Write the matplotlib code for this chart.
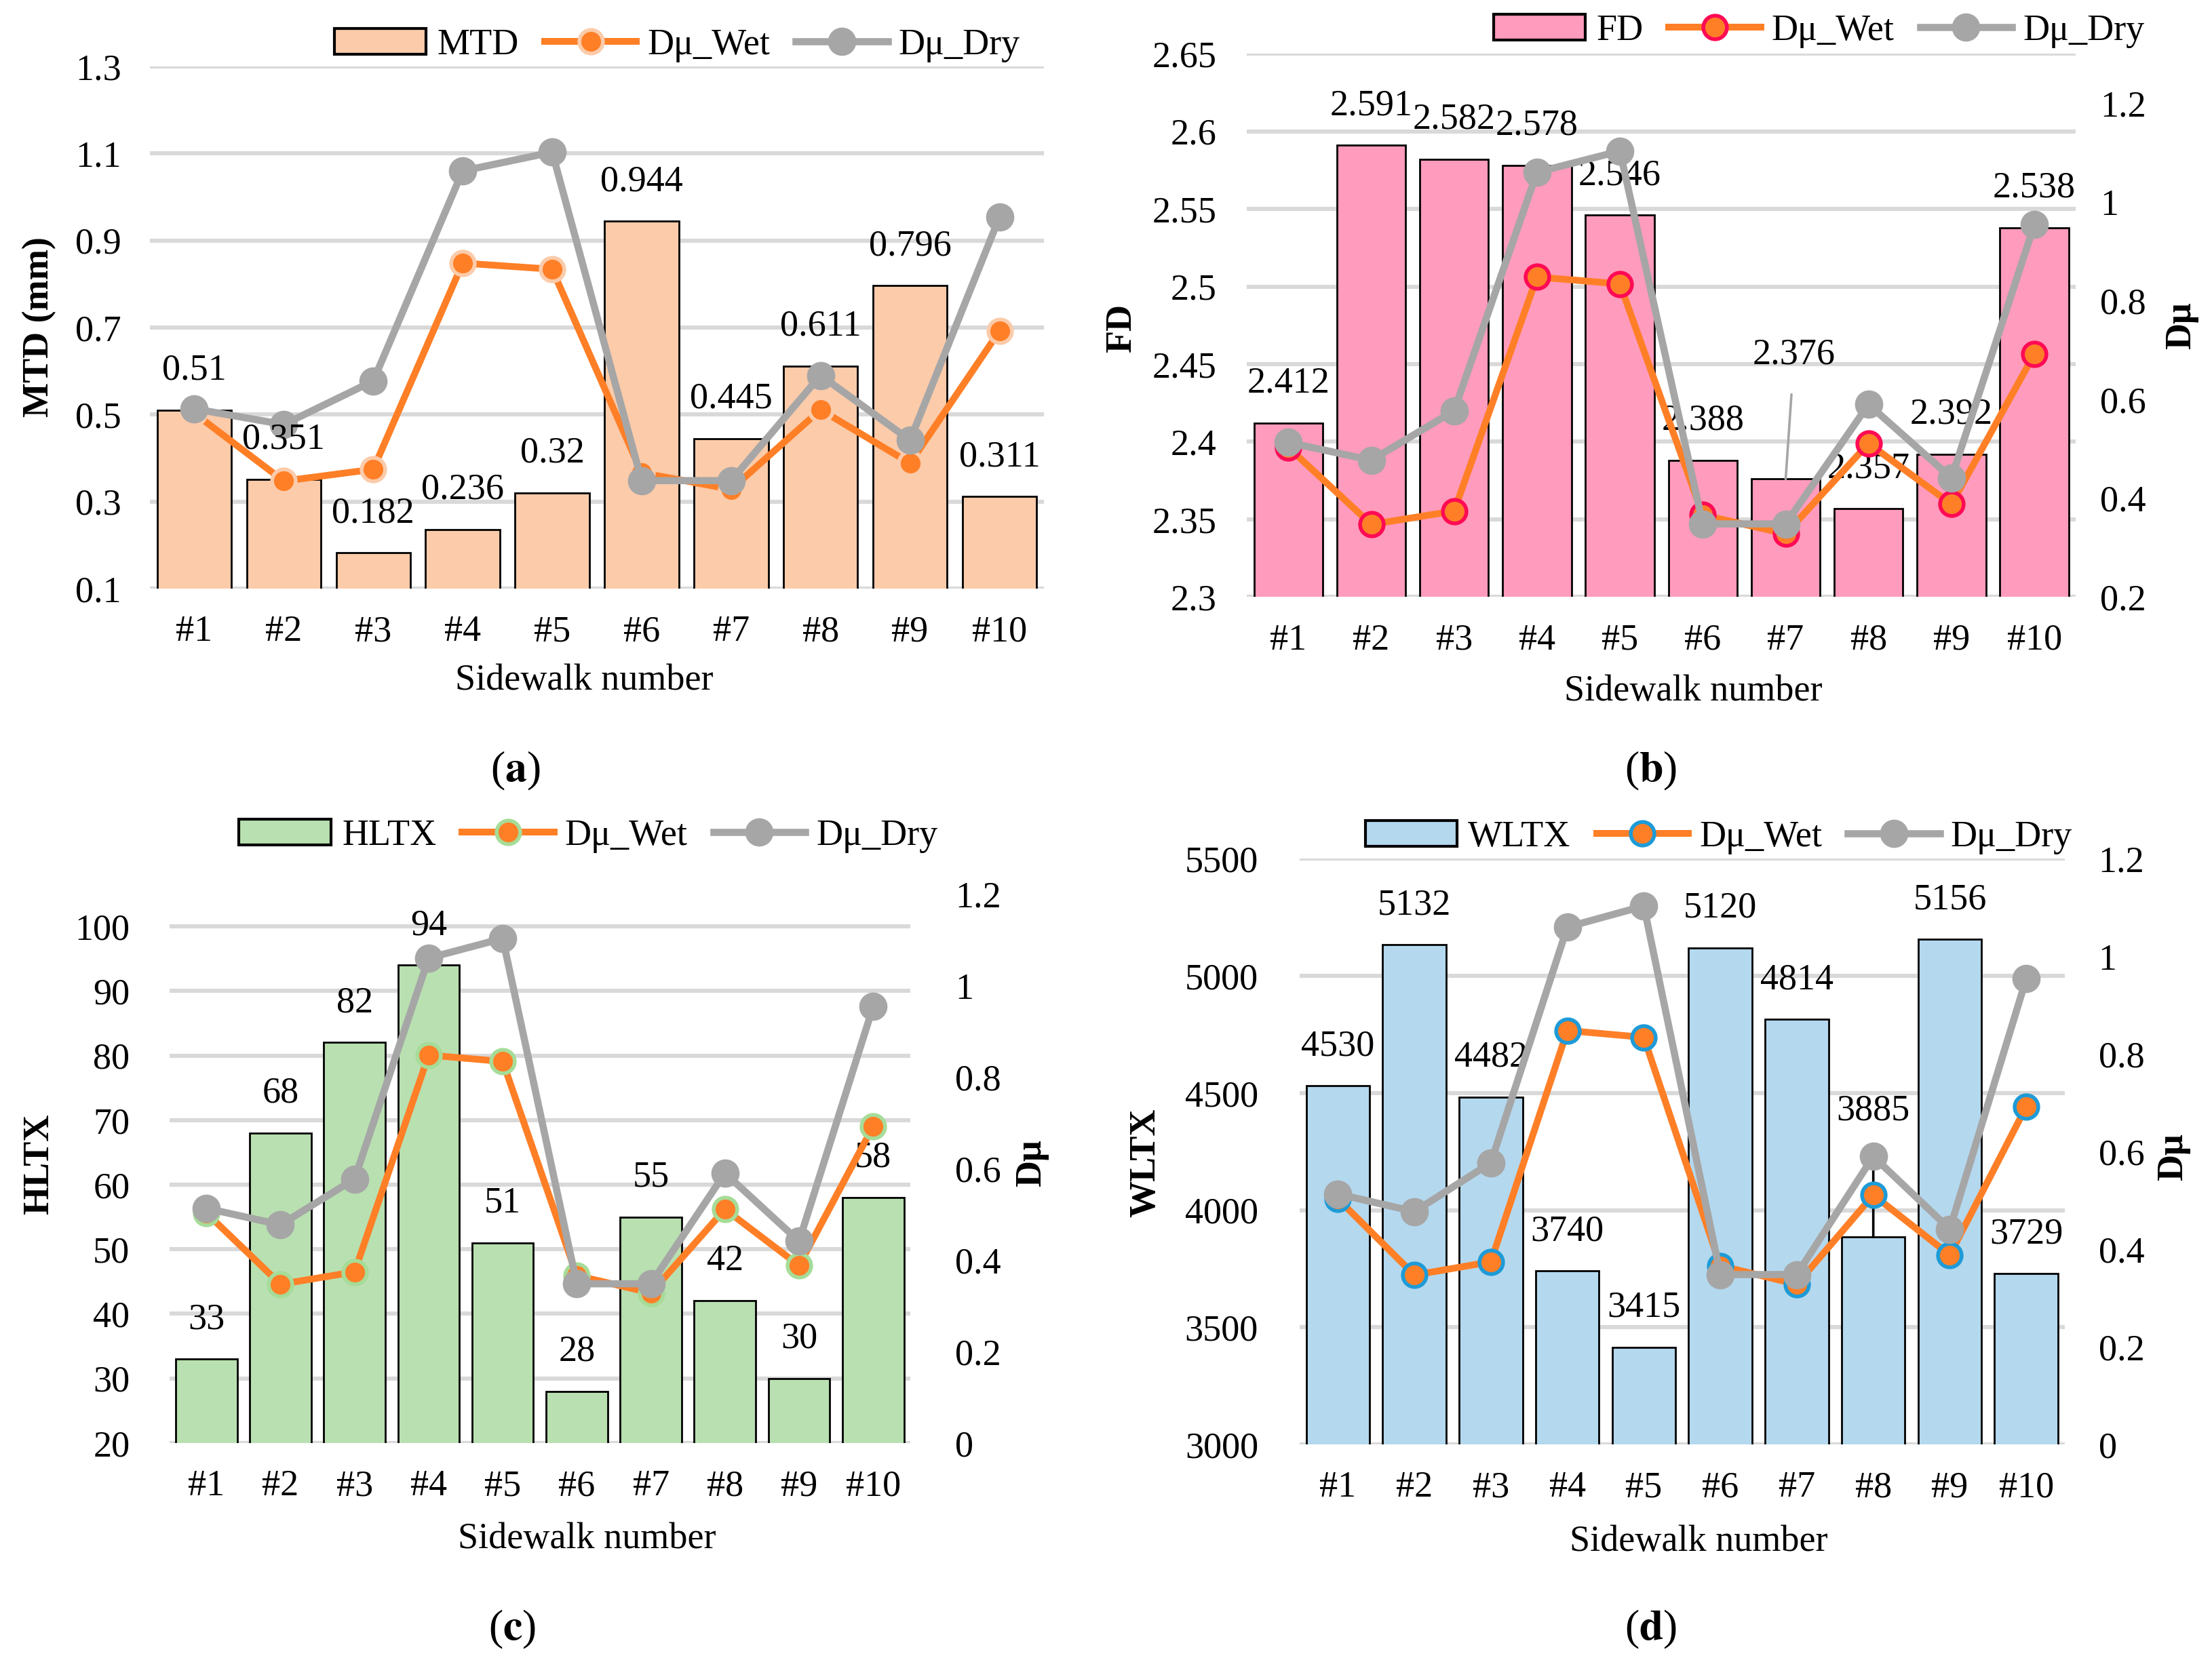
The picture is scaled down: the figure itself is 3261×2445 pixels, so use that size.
import matplotlib
matplotlib.use("Agg")
import matplotlib.pyplot as plt
from matplotlib.patches import Patch
from matplotlib.lines import Line2D

plt.rcParams['font.family'] = ['Liberation Serif', 'DejaVu Serif']
FS = 19.5

# ---- data ----
sidewalks = ['#1', '#2', '#3', '#4', '#5', '#6', '#7', '#8', '#9', '#10']
mtd = [0.51, 0.351, 0.182, 0.236, 0.32, 0.944, 0.445, 0.611, 0.796, 0.311]
fd = [2.412, 2.591, 2.582, 2.578, 2.546, 2.388, 2.376, 2.357, 2.392, 2.538]
hltx = [33, 68, 82, 94, 51, 28, 55, 42, 30, 58]
wltx = [4530, 5132, 4482, 3740, 3415, 5120, 4814, 3885, 5156, 3729]
du_wet = [0.503, 0.347, 0.374, 0.848, 0.834, 0.366, 0.328, 0.511, 0.388, 0.692]
du_dry = [0.513, 0.477, 0.577, 1.06, 1.103, 0.348, 0.348, 0.59, 0.441, 0.954]

ORANGE = '#FF7F27'
GRAY = '#A6A6A6'
GRID = '#D9D9D9'

W, H = 1568, 1172  # reference size in "display" pixels used for layout


def fx(x):
    return x / W


def fy(y):
    return 1 - y / H


def box(l, r, t, b):
    return [fx(l), fy(b), (r - l) / W, (b - t) / H]


fig = plt.figure(figsize=(16.31, 12.225), dpi=200)


def panel(rect, vals, name, bar_col, edge_col, ylim, yticks, lpad,
          twin=None, leader=None, leader_col='k', legend_at=None):
    ax = fig.add_axes(rect)
    x = list(range(len(sidewalks)))
    ax.set_axisbelow(True)
    ax.bar(x, vals, width=0.83, color=bar_col, edgecolor='black', linewidth=1.0, zorder=2)
    ax.set_xlim(-0.5, len(sidewalks) - 0.5)
    ax.set_ylim(*ylim)
    ax.set_yticks(yticks)
    ax.set_yticklabels([f"{t:g}" for t in yticks])
    ax.set_xticks(x)
    ax.set_xticklabels(sidewalks)
    ax.yaxis.grid(True, color=GRID, linewidth=2.2)
    for s in ax.spines.values():
        s.set_visible(False)
    ax.tick_params(axis='both', length=0, labelsize=FS)
    ax.tick_params(axis='y', pad=lpad)
    ax.tick_params(axis='x', pad=14)

    # data labels
    for i, v in enumerate(vals):
        txt = f"{v:g}"
        if leader is not None and i == leader[0]:
            ax.annotate(txt, (i, v), xytext=leader[1], textcoords='offset points',
                        ha='center', va='center', fontsize=FS, zorder=6,
                        arrowprops=dict(arrowstyle='-', color=leader_col, lw=1.3,
                                        shrinkA=10, shrinkB=0))
        else:
            ax.annotate(txt, (i, v), xytext=(0, 21), textcoords='offset points',
                        ha='center', va='center', fontsize=FS, zorder=6)

    if twin is None:
        lax = ax
    else:
        lax = ax.twinx()
        lax.set_ylim(*twin[0])
        lax.set_yticks(twin[1])
        lax.set_yticklabels([f"{t:g}" for t in twin[1]])
        for s in lax.spines.values():
            s.set_visible(False)
        lax.tick_params(axis='y', length=0, labelsize=FS, pad=twin[2])

    lax.plot(x, du_wet, color=ORANGE, lw=3.6, marker='o', ms=12.5,
             mfc=ORANGE, mec=edge_col, mew=2.0, zorder=4)
    lax.plot(x, du_dry, color=GRAY, lw=3.8, marker='o', ms=14,
             mfc=GRAY, mec=GRAY, zorder=5)

    handles = [Patch(facecolor=bar_col, edgecolor='black', linewidth=1.5),
               Line2D([], [], color=ORANGE, lw=3.6, marker='o', ms=12.5,
                      mfc=ORANGE, mec=edge_col, mew=2.0),
               Line2D([], [], color=GRAY, lw=3.8, marker='o', ms=14, mfc=GRAY, mec=GRAY)]
    fig.legend(handles, [name, 'Dμ_Wet', 'Dμ_Dry'], loc='center', ncol=3,
               bbox_to_anchor=(fx(legend_at[0]), fy(legend_at[1])),
               frameon=False, fontsize=FS, handlelength=2.5, handletextpad=0.3,
               columnspacing=0.7, borderaxespad=0)
    return ax


def vlabel(x, y, s):
    fig.text(fx(x), fy(y), s, rotation=90, ha='center', va='center',
             fontsize=FS, fontweight='bold')


def xlabel(x, y):
    fig.text(fx(x), fy(y), 'Sidewalk number', ha='center', va='center', fontsize=FS)


# (a)
panel(box(106, 740, 47, 416), mtd, 'MTD', '#FBCBAA', '#FBCBAA', (0.1, 1.3),
      [0.1, 0.3, 0.5, 0.7, 0.9, 1.1, 1.3], 15, legend_at=(480, 32))
vlabel(28, 231, 'MTD (mm)')
xlabel(414, 481)

# (b)
panel(box(883.6, 1471, 38, 422), fd, 'FD', '#FF9BBD', '#FF0A54', (2.3, 2.65),
      [2.3, 2.35, 2.4, 2.45, 2.5, 2.55, 2.6, 2.65], 16,
      twin=((0.2, 1.3), [0.2, 0.4, 0.6, 0.8, 1.0, 1.2], 13),
      leader=(6, (4.5, 66)), leader_col=GRAY, legend_at=(1289, 22))
vlabel(795, 232, 'FD')
vlabel(1546, 230, 'Dμ')
xlabel(1200, 489)

# (c)
panel(box(120, 645, 632, 1020), hltx, 'HLTX', '#B9E0B1', '#A6DC98', (20, 105),
      [20, 30, 40, 50, 60, 70, 80, 90, 100], 21,
      twin=((0, 1.2), [0, 0.2, 0.4, 0.6, 0.8, 1.0, 1.2], 24), legend_at=(417, 591))
vlabel(28, 823, 'HLTX')
vlabel(731, 822, 'Dμ')
xlabel(416, 1088)

# (d)
panel(box(921, 1463, 607, 1021), wltx, 'WLTX', '#B4D8EE', '#1E9BD7', (3000, 5500),
      [3000, 3500, 4000, 4500, 5000, 5500], 22,
      twin=((0, 1.2), [0, 0.2, 0.4, 0.6, 0.8, 1.0, 1.2], 18),
      leader=(7, (0, 67)), leader_col='black', legend_at=(1218, 592))
vlabel(812, 822, 'WLTX')
vlabel(1540, 818, 'Dμ')
xlabel(1204, 1090)

# panel letters
for lab, (px, py) in zip('abcd', [(365, 545), (1170, 545), (363, 1152), (1170, 1152)]):
    fig.text(fx(px), fy(py), '(' + r'$\mathbf{' + lab + '}$' + ')', ha='center', va='center',
             fontsize=23, math_fontfamily='stix')

fig.savefig('out.png', dpi=200)
